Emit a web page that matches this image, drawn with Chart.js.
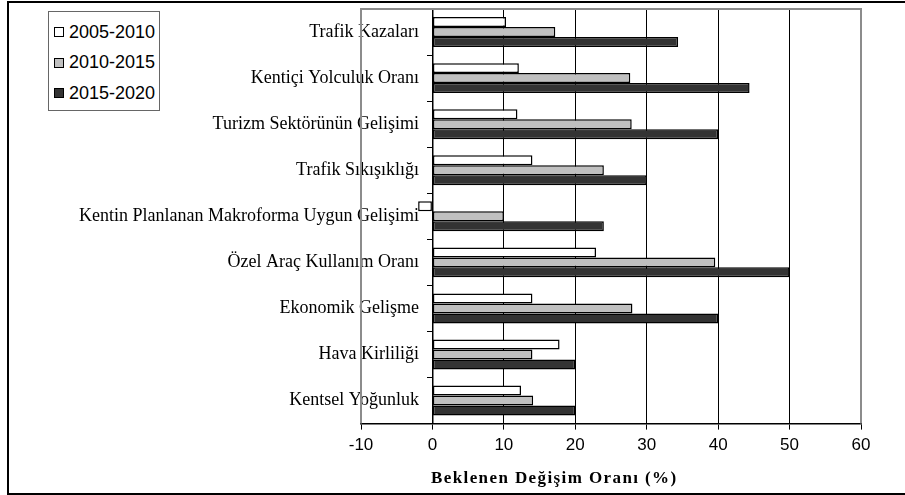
<!DOCTYPE html>
<html>
<head>
<meta charset="utf-8">
<script src="https://cdn.jsdelivr.net/npm/chart.js@4.4.1/dist/chart.umd.min.js"></script>
<style>
  html, body { margin: 0; padding: 0; background: #fff; }
  #wrap { position: relative; width: 905px; height: 495px; overflow: hidden; background: #fff; }
  #frame { position: absolute; left: 7px; top: 1px; width: 1000px; height: 490px; border: 2px solid #000; box-sizing: content-box; pointer-events: none; }
  #legend { position: absolute; left: 48px; top: 11px; width: 112px; height: 100px; border: 1px solid #666; background: #fff; box-sizing: border-box; }
  .item { position: absolute; left: 5px; height: 20px; display: flex; align-items: center; font-family: "Liberation Sans", Arial, sans-serif; font-size: 18px; color: #000; white-space: nowrap; }
  .sw { width: 8px; height: 8px; border: 1px solid #000; margin-right: 5px; }
  #xtitle { position: absolute; left: 431px; top: 468px; font-family: "Liberation Serif", "Times New Roman", serif; font-weight: bold; font-size: 17px; letter-spacing: 1.4px; color: #000; white-space: nowrap; }
  canvas { position: absolute; left: 0; top: 0; }
</style>
</head>
<body>
<div id="wrap">
  <canvas id="c" width="905" height="495"></canvas>
  <div id="frame"></div>
  <div id="legend"></div>
  <div id="xtitle">Beklenen Değişim Oranı (%)</div>
</div>
<script>
const categories = [
  "Trafik Kazaları",
  "Kentiçi Yolculuk Oranı",
  "Turizm Sektörünün Gelişimi",
  "Trafik Sıkışıklığı",
  "Kentin Planlanan Makroforma Uygun Gelişimi",
  "Özel Araç Kullanım Oranı",
  "Ekonomik Gelişme",
  "Hava Kirliliği",
  "Kentsel Yoğunluk"
];
const seriesNames = ["2005-2010", "2010-2015", "2015-2020"];
const values2005_2010 = [10.3, 12.1, 11.9, 14, -2, 22.9, 14, 17.8, 12.4];
const values2010_2015 = [17.2, 27.7, 27.9, 24, 10, 39.6, 28, 14, 14.1];
const values2015_2020 = [34.4, 44.4, 40, 30, 24, 50, 40, 20, 20];
const xTickValues = [-10, 0, 10, 20, 30, 40, 50, 60];
const seriesColors = ["#ffffff", "#c0c0c0", "#333333"];

// HTML legend built from series
const legendEl = document.getElementById('legend');
seriesNames.forEach((name, i) => {
  const d = document.createElement('div');
  d.className = 'item';
  d.style.top = (10 + i * 30.5) + 'px';
  d.innerHTML = '<span class="sw" style="background:' + seriesColors[i] + '"></span>' + name;
  legendEl.appendChild(d);
});

const plotBorder = {
  id: 'plotBorder',
  beforeDatasetsDraw(chart) {
    const {ctx, chartArea: a} = chart;
    ctx.save();
    ctx.strokeStyle = '#8c8c8c';
    ctx.lineWidth = 2;
    ctx.beginPath();
    ctx.moveTo(a.left, a.bottom);
    ctx.lineTo(a.left, a.top);
    ctx.lineTo(a.right, a.top);
    ctx.lineTo(a.right, a.bottom);
    ctx.stroke();
    ctx.restore();
  }
};

const ds = [values2005_2010, values2010_2015, values2015_2020].map((vals, i) => ({
  label: seriesNames[i],
  data: vals,
  backgroundColor: seriesColors[i],
  borderColor: '#000',
  borderWidth: 1.5,
  borderSkipped: false,
  categoryPercentage: 0.65,
  barPercentage: 1.0
}));

new Chart(document.getElementById('c'), {
  type: 'bar',
  data: { labels: categories, datasets: ds },
  options: {
    responsive: false,
    animation: false,
    indexAxis: 'y',
    layout: { padding: { left: 361, right: 44, top: 9, bottom: 33 } },
    plugins: { legend: { display: false }, tooltip: { enabled: false } },
    scales: {
      x: {
        type: 'linear',
        min: -10, max: 60,
        afterBuildTicks(scale) { scale.ticks = xTickValues.map(v => ({ value: v })); },
        afterFit(scale) { scale.paddingLeft = 0; scale.paddingRight = 0; },
        grid: {
          color: (c) => (c.tick && c.tick.value > 0 && c.tick.value < 60) ? '#000' : 'rgba(0,0,0,0)',
          tickColor: '#000',
          tickLength: 6,
          lineWidth: 1
        },
        border: { display: true, color: '#000', width: 1.5 },
        ticks: {
          color: '#000',
          padding: 6,
          font: { family: '"Liberation Sans", Arial, sans-serif', size: 17 }
        }
      },
      y: {
        type: 'category',
        position: { x: 0 },
        afterFit(scale) { scale.paddingTop = 0; scale.paddingBottom = 0; },
        grid: {
          offset: true,
          drawOnChartArea: false,
          tickColor: '#000',
          tickLength: 5,
          lineWidth: 1
        },
        border: { display: true, color: '#000', width: 1.5 },
        ticks: {
          color: '#000',
          autoSkip: false,
          callback: function (v) { return this.getLabelForValue(v) + '   '; },
          font: { family: '"Liberation Serif", "Times New Roman", serif', size: 18 }
        }
      }
    }
  },
  plugins: [plotBorder]
});
</script>
</body>
</html>
